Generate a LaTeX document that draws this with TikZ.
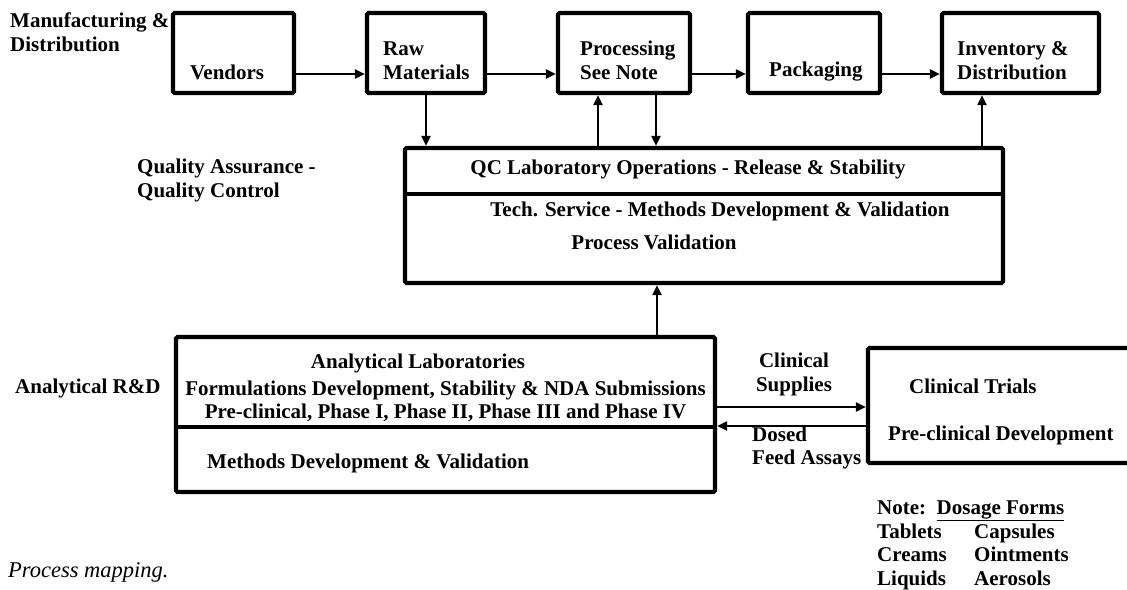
\documentclass[tikz,border=0pt]{standalone}
\usepackage{fontspec}
\setmainfont{Liberation Serif}
\usetikzlibrary{arrows.meta,positioning}

\begin{document}
\begin{tikzpicture}[x=1pt,y=-1pt,
  blk/.style={draw,line width=4.2pt,inner sep=0pt,rounded corners=1.5pt},
  lbl/.style={font=\fontsize{21}{23.5}\selectfont\bfseries,inner sep=0pt,align=left},
  arr/.style={line width=2pt,-{Triangle[length=10pt,width=9pt]}},
  divline/.style={line width=4.2pt}]
  \useasboundingbox (0,0) rectangle (1127,589);
  % Boxes
  \node[blk,minimum width=121pt,minimum height=80pt] (vendors) at (233.5,53) {};
  \node[blk,minimum width=118pt,minimum height=80pt] (raw) at (426,53) {};
  \node[blk,minimum width=132pt,minimum height=80pt] (proc) at (624,53) {};
  \node[blk,minimum width=132pt,minimum height=80pt] (pack) at (814,53) {};
  \node[blk,minimum width=157pt,minimum height=80pt] (inv) at (1020.5,53) {};
  \node[blk,minimum width=598pt,minimum height=135pt] (qc) at (704,215.5) {};
  \node[blk,minimum width=539pt,minimum height=155pt] (ana) at (445.5,414.5) {};
  \node[blk,minimum width=272pt,minimum height=115pt] (clin) at (1004,405.5) {};
  % Dividers
  \coordinate (qcdiv) at (0,194);
  \coordinate (anadiv) at (0,427);
  \draw[divline] (qc.west |- qcdiv) -- (qc.east |- qcdiv);
  \draw[divline] (ana.west |- anadiv) -- (ana.east |- anadiv);
  % Row labels
  \node[lbl,anchor=west] (mfglbl) at (10,32) {Manufacturing \&\\Distribution};
  \node[lbl,anchor=west] (qalbl) at (137,180.5) {Quality Assurance -\\Quality Control};
  \node[lbl,anchor=west] (rdlbl) at (15,388) {Analytical R\&D};
  % Box texts
  \node[lbl,anchor=west] (vendorst) at (190,72) {Vendors};
  \node[lbl,anchor=west] (rawt) at (383,60.5) {Raw\\Materials};
  \node[lbl,anchor=west] (proct) at (580,60.5) {Processing\\See Note};
  \node[lbl,anchor=west] (packt) at (769,72) {Packaging};
  \node[lbl,anchor=west] (invt) at (957,60.5) {Inventory \&\\Distribution};
  \node[lbl] (qct) at (688,169) {QC Laboratory Operations - Release \& Stability};
  \node[lbl] (techt) at (720,211) {Tech. Service - Methods Development \& Validation};
  \node[lbl] (pvt) at (654,242) {Process Validation};
  \node[lbl] (anat) at (418,363) {Analytical Laboratories};
  \node[lbl,align=center] (anaf) at (445.5,401.5) {Formulations Development, Stability \& NDA Submissions\\Pre-clinical, Phase I, Phase II, Phase III and Phase IV};
  \node[lbl,anchor=west] (anam) at (207,463) {Methods Development \& Validation};
  \node[lbl,anchor=west] (clint) at (909,386) {Clinical Trials};
  \node[lbl,anchor=west] (clinp) at (888,435) {Pre-clinical Development};
  % Arrow labels
  \node[lbl,align=center] (supplyt) at (794,374.5) {Clinical\\Supplies};
  \node[lbl,anchor=west] (dosedt) at (752,448) {Dosed\\Feed Assays};
  % Note
  \node[lbl,anchor=north west] (notet) at (877,498) {\begin{tabular}{@{}p{97pt}@{}l@{}}
    \multicolumn{2}{@{}l@{}}{Note:\ \ \underline{Dosage Forms}}\\
    Tablets & Capsules\\
    Creams & Ointments\\
    Liquids & Aerosols
  \end{tabular}};
  \node[font=\fontsize{22.5}{25}\selectfont\itshape,inner sep=0pt,anchor=west] (caption) at (8,572) {Process mapping.};
  % Flow arrows
  \coordinate (flow) at (0,74);
  \foreach \a/\b in {vendors/raw,raw/proc,proc/pack,pack/inv}
    \draw[arr] (\a.east |- flow) -- (\b.west |- flow);
  % QA links
  \coordinate (procup) at ([xshift=-26pt]proc.south);
  \coordinate (procdown) at ([xshift=32pt]proc.south);
  \coordinate (invup) at ([xshift=-38.5pt]inv.south);
  \coordinate (anaup) at ([xshift=211.5pt]ana.north);
  \draw[arr] (raw.south) -- (raw.south |- qc.north);
  \draw[arr] (procup |- qc.north) -- (procup);
  \draw[arr] (procdown) -- (procdown |- qc.north);
  \draw[arr] (invup |- qc.north) -- (invup);
  \draw[arr] (anaup) -- (anaup |- qc.south);
  % Clinical links
  \coordinate (supply) at (0,407);
  \coordinate (dosed) at (0,426);
  \draw[arr] (ana.east |- supply) -- (clin.west |- supply);
  \draw[arr] (clin.west |- dosed) -- (ana.east |- dosed);
\end{tikzpicture}
\end{document}
